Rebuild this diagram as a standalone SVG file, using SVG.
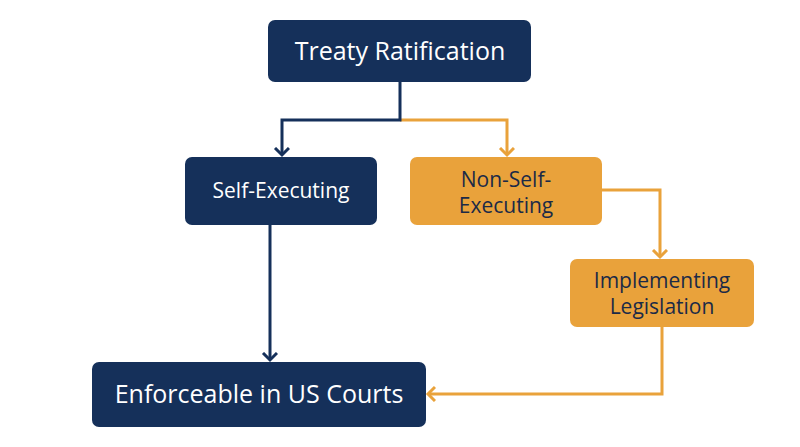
<svg xmlns="http://www.w3.org/2000/svg" width="800" height="447" viewBox="0 0 800 447">
<defs>
<style>
.navy{fill:#15305a}
.orange{fill:#e9a23b}
.tw{fill:#ffffff;font-family:"Open Sans",sans-serif;text-anchor:middle}
.td{fill:#1b2a47;font-family:"Open Sans",sans-serif;text-anchor:middle}
.cn{fill:none;stroke:#15305a;stroke-width:3}
.co{fill:none;stroke:#e9a23b;stroke-width:3}
</style>
<marker id="an" markerWidth="18" markerHeight="18" refX="8" refY="8" orient="auto" markerUnits="userSpaceOnUse" viewBox="0 0 18 18"><path d="M1,1 L8,8 L1,15" fill="none" stroke="#15305a" stroke-width="3"/></marker>
<marker id="ao" markerWidth="18" markerHeight="18" refX="8" refY="8" orient="auto" markerUnits="userSpaceOnUse" viewBox="0 0 18 18"><path d="M1,1 L8,8 L1,15" fill="none" stroke="#e9a23b" stroke-width="3"/></marker>
</defs>
<rect width="800" height="447" fill="#ffffff"/>
<g id="connectors">
<path class="co" d="M400,120 H507 V155" marker-end="url(#ao)"/>
<path class="cn" d="M400,82 V120 H282 V155" marker-end="url(#an)"/>
<path class="cn" d="M270,225 V360" marker-end="url(#an)"/>
<path class="co" d="M602,190 H660 V257" marker-end="url(#ao)"/>
<path class="co" d="M662,327 V394 H428" marker-end="url(#ao)"/>
</g>
<g id="treaty"><rect class="navy" x="268" y="20" width="263" height="62" rx="7"/><text class="tw" x="400" y="60" font-size="25">Treaty Ratification</text></g>
<g id="self"><rect class="navy" x="185" y="157" width="192" height="68" rx="7"/><text class="tw" x="281" y="198" font-size="21">Self-Executing</text></g>
<g id="nonself"><rect class="orange" x="410" y="157" width="192" height="68" rx="7"/><text class="td" x="506" y="187" font-size="21">Non-Self-</text><text class="td" x="506" y="213" font-size="21">Executing</text></g>
<g id="impl"><rect class="orange" x="570" y="259" width="184" height="68" rx="7"/><text class="td" x="662" y="288" font-size="21">Implementing</text><text class="td" x="662" y="314" font-size="21">Legislation</text></g>
<g id="enforce"><rect class="navy" x="92" y="362" width="334" height="65" rx="7"/><text class="tw" x="259" y="403" font-size="25">Enforceable in US Courts</text></g>
</svg>
